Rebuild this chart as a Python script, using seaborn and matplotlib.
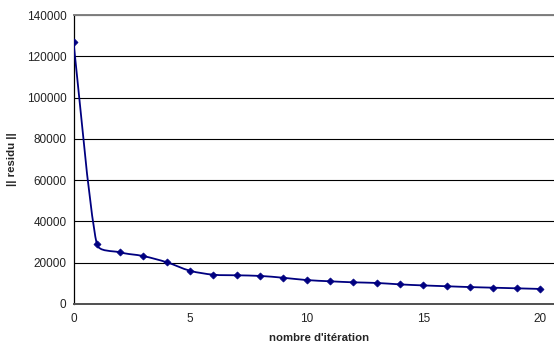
import numpy as np
import matplotlib
matplotlib.use("Agg")
import matplotlib.pyplot as plt
from matplotlib.path import Path
from matplotlib.patches import PathPatch
import seaborn as sns

# values
iterations = list(range(21))
residu = [127000, 29000, 25000, 23200, 20200, 16100, 14200, 13900, 13600, 12700,
          11600, 11000, 10500, 10200, 9500, 9000, 8600, 8200, 7900, 7600, 7300]
x_ticks = [0, 5, 10, 15, 20]
y_ticks = list(range(0, 140001, 20000))

NAVY = "#000080"
XMAX, YMAX = 20.6, 140000


def smooth_path(x, y, sx, sy, k=1 / 6):
    """Excel-like smoothed line: Catmull-Rom Bezier, control arms limited to
    a third of the segment length (measured in pixels)."""
    p = np.column_stack([x, y]).astype(float)
    n = len(p)
    scale = np.array([sx, sy])

    def arm(vec, seg):
        lv = np.hypot(*(vec * scale))
        ls = np.hypot(*(seg * scale)) / 3
        return vec * min(1.0, ls / lv) if lv > 0 else vec

    verts = [tuple(p[0])]
    codes = [Path.MOVETO]
    for i in range(n - 1):
        seg = p[i + 1] - p[i]
        a = arm((p[i + 1] - p[max(i - 1, 0)]) * k, seg)
        b = arm((p[min(i + 2, n - 1)] - p[i]) * k, seg)
        verts += [tuple(p[i] + a), tuple(p[i + 1] - b), tuple(p[i + 1])]
        codes += [Path.CURVE4] * 3
    return Path(verts, codes)


sns.set_style("white")
plt.rcParams["font.family"] = ["Liberation Sans", "DejaVu Sans"]

fig = plt.figure(figsize=(5.54, 3.47), dpi=100)
ax_w, ax_h = 554 - 73.5, 289
ax = fig.add_axes([73.5 / 554, 43 / 347, ax_w / 554, ax_h / 347])

# smoothed curve
ax.add_patch(PathPatch(smooth_path(iterations, residu, ax_w / XMAX, ax_h / YMAX),
                       facecolor="none", edgecolor=NAVY, linewidth=1.3, zorder=3))
# diamond markers
sns.scatterplot(x=iterations, y=residu, marker="D", s=13, color=NAVY,
                edgecolor=NAVY, linewidth=0.5, ax=ax, zorder=4)

ax.set_xlim(0, XMAX)
ax.set_ylim(0, YMAX)
ax.set_xticks(x_ticks)
ax.set_yticks(y_ticks)
ax.tick_params(axis="both", labelsize=8.5, length=3.5, width=0.8, direction="out",
               colors="black", pad=1.5)
ax.tick_params(axis="x", pad=3)
for lbl in ax.get_xticklabels() + ax.get_yticklabels():
    lbl.set_color("#222222")

ax.grid(axis="y", color="black", linewidth=0.8)
ax.grid(axis="x", visible=False)
ax.set_axisbelow(True)

for side in ["left", "bottom", "top", "right"]:
    ax.spines[side].set_visible(True)
ax.spines["left"].set_color("black")
ax.spines["left"].set_linewidth(0.9)
ax.spines["bottom"].set_color("#505050")
ax.spines["bottom"].set_linewidth(1.4)
ax.spines["top"].set_color("#808080")
ax.spines["top"].set_linewidth(1.4)
ax.spines["right"].set_visible(False)

ax.set_xlabel("nombre d'itération", fontsize=8.2, fontweight="bold", labelpad=3)
ax.xaxis.set_label_coords((319 - 73.5) / ax_w, -(330 - 304) / ax_h - 0.01)
ax.set_ylabel("|| residu ||", fontsize=8.2, fontweight="bold")
ax.yaxis.set_label_coords(-(73.5 - 17) / ax_w, 0.5)

fig.savefig("out.png", dpi=100)
